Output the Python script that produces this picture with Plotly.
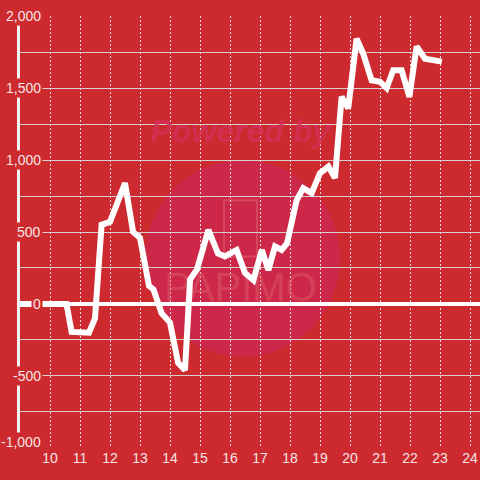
import plotly.graph_objects as go

BG = "#cc2a2f"
FONT = "Liberation Sans, Arial, sans-serif"
LABEL_COLOR = "#f4e4e4"

hours = [9.0, 10.55, 10.72, 11.3, 11.5, 11.72, 12.0, 12.5, 12.77, 13.0, 13.3,
         13.45, 13.72, 14.0, 14.27, 14.5, 14.67, 14.9, 15.28, 15.6, 15.83,
         16.22, 16.5, 16.78, 17.06, 17.28, 17.5, 17.72, 17.9, 18.22, 18.44,
         18.72, 19.0, 19.28, 19.5, 19.72, 19.94, 20.22, 20.44, 20.72, 21.0,
         21.22, 21.44, 21.72, 21.98, 22.22, 22.5, 22.72, 23.06]
values = [0, 0, -195, -200, -100, 550, 570, 840, 500, 460, 125,
          100, -65, -130, -410, -460, 170, 240, 515, 350, 330,
          375, 215, 165, 375, 235, 400, 375, 420, 720, 805,
          770, 910, 955, 875, 1440, 1360, 1845, 1740, 1555, 1545,
          1500, 1625, 1625, 1440, 1790, 1705, 1695, 1685]

x_ticks = list(range(10, 25))
y_grid = list(range(-1000, 2001, 250))
y_labels = [-1000, -500, 0, 500, 1000, 1500, 2000]

fig = go.Figure()

# faint watermark text, drawn before the line so it sits underneath
fig.add_trace(go.Scatter(
    x=[16.35, 16.35], y=[1180, 90], mode="text",
    text=["<b><i>Powered by</i></b>", "PAPIMO"],
    textfont=dict(family=FONT, size=[32, 40],
                  color=["rgba(212,48,88,0.8)", "rgba(222,90,105,0.5)"]),
    hoverinfo="skip",
))

fig.add_trace(go.Scatter(
    x=hours, y=values, mode="lines",
    line=dict(color="white", width=6),
    hoverinfo="skip",
))

fig.add_shape(type="circle", layer="below", x0=13.17, x1=19.67, y0=-368, y1=1000,
              fillcolor="#cd2849", line=dict(width=0))
fig.add_shape(type="rect", layer="below", x0=15.8, x1=16.9, y0=330, y1=720,
              fillcolor="rgba(0,0,0,0)", line=dict(color="rgba(222,90,105,0.6)", width=2))

for v in y_labels:
    fig.add_annotation(
        x=9.77, y=v, xref="x", yref="y", xanchor="right", yanchor="middle",
        yshift=6 if v == -1000 else 0,
        text=f"{v:,}", showarrow=False, bgcolor=BG, borderpad=1,
        font=dict(family=FONT, size=14, color=LABEL_COLOR),
    )

fig.update_xaxes(
    range=[9.0, 24.333], tickvals=x_ticks, ticks="",
    showgrid=True, gridcolor="rgba(245,235,235,0.9)", gridwidth=1, griddash="2px,2px",
    showline=False, zeroline=False,
    tickfont=dict(family=FONT, size=14, color=LABEL_COLOR),
)
fig.update_yaxes(
    range=[-1002, 2002], tickvals=y_grid, showticklabels=False, ticks="",
    showgrid=True, gridcolor="rgba(215,215,215,0.95)", gridwidth=1,
    zeroline=True, zerolinecolor="white", zerolinewidth=4,
    showline=True, linecolor="#f2f2f2", linewidth=3,
)
fig.update_layout(
    width=480, height=480,
    margin=dict(l=20, r=0, t=16, b=32),
    plot_bgcolor=BG, paper_bgcolor=BG,
    showlegend=False,
)

# drop the default 8px page margin so the figure fills the window
fig.write_html(
    "out.html",
    config={"displayModeBar": False},
    post_script=f"document.body.style.margin='0';document.body.style.background='{BG}';",
)
